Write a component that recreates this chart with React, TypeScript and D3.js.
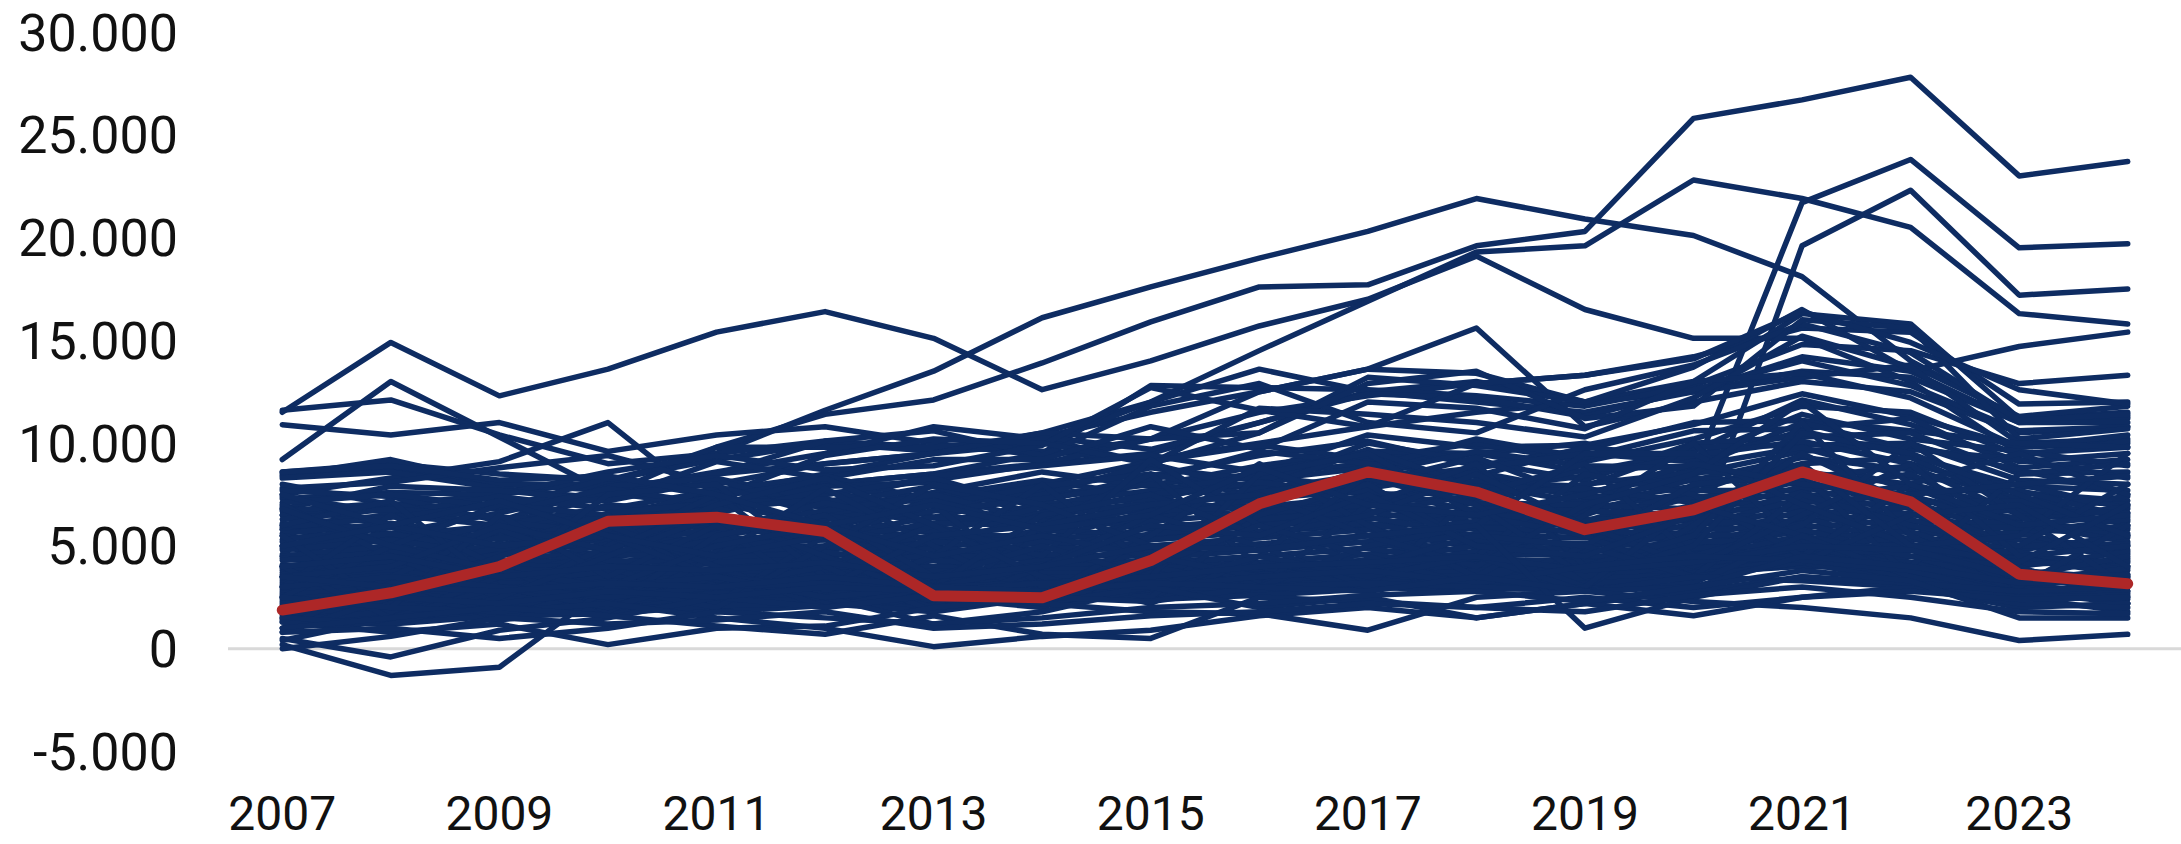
import React from "react";
import * as d3 from "d3";

// Years on the category axis
const YEARS = [2007, 2008, 2009, 2010, 2011, 2012, 2013, 2014, 2015, 2016, 2017, 2018, 2019, 2020, 2021, 2022, 2023, 2024];
const X_TICKS = [2007, 2009, 2011, 2013, 2015, 2017, 2019, 2021, 2023];
// values in thousands
const Y_TICKS = [-5, 0, 5, 10, 15, 20, 25, 30];

// Highlighted series (thousands)
const HIGHLIGHT = [1.88, 2.72, 4.0, 6.2, 6.4, 5.7, 2.58, 2.48, 4.29, 7.05, 8.6, 7.62, 5.79, 6.76, 8.6, 7.15, 3.62, 3.16];

// Upper outliers
const U01 = [11.5, 14.9, 12.3, 13.6, 15.4, 16.4, 15.1, 12.6, 14.0, 15.7, 17.0, 19.1, 16.5, 15.1, 15.1, 13.0, 9.5, 9.8];
const U02 = [6.5, 7.0, 7.5, 8.2, 9.5, 11.6, 13.5, 16.1, 17.6, 19.0, 20.3, 21.9, 20.9, 20.1, 18.1, 14.0, 11.2, 11.3];
const U03 = [5.8, 6.5, 6.0, 7.5, 9.8, 11.4, 12.1, 13.9, 15.9, 17.6, 17.7, 19.6, 20.3, 25.8, 26.7, 27.8, 23.0, 23.7];
const U04 = [8.6, 9.0, 8.5, 8.2, 9.2, 10.0, 9.6, 10.5, 12.0, 14.5, 16.9, 19.3, 19.6, 22.8, 21.9, 20.5, 16.3, 15.8];
const U05 = [4.0, 4.5, 5.0, 6.0, 5.5, 6.5, 7.0, 7.5, 8.0, 8.5, 9.0, 9.5, 10.0, 8.5, 21.7, 23.8, 19.5, 19.7];
const U06 = [3.5, 3.0, 4.0, 4.5, 5.0, 5.5, 6.0, 6.5, 7.0, 7.5, 8.0, 8.5, 7.5, 5.0, 19.6, 22.3, 17.2, 17.5];
const U07 = [9.2, 13.0, 10.3, 7.6, 7.0, 8.0, 8.5, 9.0, 9.5, 11.0, 12.5, 13.0, 12.0, 12.5, 14.2, 13.5, 11.0, 11.2];
const U08 = [11.6, 12.1, 10.4, 9.0, 9.5, 10.1, 9.8, 9.6, 9.2, 10.0, 10.8, 11.5, 12.0, 12.5, 13.5, 13.2, 11.0, 11.0];
const U09 = [10.9, 10.4, 11.0, 9.6, 10.4, 10.8, 10.0, 9.4, 10.2, 11.5, 12.3, 12.9, 13.3, 14.2, 15.6, 15.4, 11.9, 12.0];
const U10 = [7.5, 8.3, 9.1, 11.0, 6.8, 7.5, 8.2, 9.0, 10.2, 12.5, 13.6, 13.4, 12.0, 13.0, 16.3, 15.8, 11.2, 11.5];
const U11 = [6.0, 6.5, 7.0, 7.5, 8.5, 9.0, 9.5, 10.3, 11.5, 12.5, 13.6, 15.6, 10.8, 12.0, 13.0, 12.5, 10.5, 10.8];
const U12 = [5.0, 5.5, 6.0, 6.5, 7.5, 8.5, 9.5, 10.0, 12.0, 13.6, 12.5, 12.0, 11.5, 12.5, 13.2, 13.8, 11.3, 11.8];
const U13 = [4.5, 5.0, 5.5, 6.5, 7.0, 8.0, 8.5, 9.5, 12.8, 12.7, 12.6, 12.3, 11.8, 12.8, 14.8, 14.5, 12.9, 13.3];
const U14 = [8.5, 8.8, 8.0, 7.7, 8.6, 9.5, 10.8, 10.2, 9.0, 10.5, 13.2, 12.8, 12.0, 13.7, 16.5, 13.5, 14.7, 15.4];

// Middle-upper series
const M01 = [8.4, 9.2, 8.0, 8.0, 9.8, 9.8, 9.8, 10.3, 9.7, 11.0, 12.4, 12.2, 11.3, 12.6, 14.0, 12.8, 10.6, 10.8];
const M02 = [8.3, 8.6, 7.8, 7.3, 8.5, 10.1, 10.6, 9.4, 11.8, 12.9, 11.0, 10.5, 12.6, 13.8, 15.8, 14.4, 11.1, 11.4];
const M03 = [7.8, 8.1, 8.8, 9.4, 8.0, 9.0, 9.5, 10.5, 10.2, 10.5, 12.9, 13.5, 11.2, 11.8, 16.0, 15.6, 10.2, 10.7];
const M04 = [7.3, 7.6, 7.5, 8.6, 9.4, 8.7, 8.9, 9.9, 12.7, 11.6, 10.8, 12.9, 13.3, 14.1, 16.4, 14.9, 12.6, 11.9];
const M05 = [8.0, 7.0, 6.8, 8.3, 7.4, 9.4, 10.2, 10.0, 9.0, 11.7, 11.4, 11.0, 10.3, 12.2, 15.2, 13.7, 10.0, 10.2];
const M06 = [6.8, 7.9, 7.7, 7.2, 9.1, 8.3, 9.2, 9.2, 10.8, 9.7, 12.0, 11.7, 10.7, 13.0, 13.4, 12.2, 9.8, 10.0];

// Dense band
const B01 = [7.7, 7.4, 6.2, 7.9, 8.3, 7.1, 8.4, 8.9, 9.4, 8.6, 10.4, 9.8, 9.9, 10.9, 12.4, 11.3, 9.8, 10.4];
const B02 = [7.4, 6.6, 7.4, 6.8, 7.7, 8.4, 7.2, 8.0, 9.1, 9.9, 9.2, 10.0, 9.1, 10.2, 11.8, 11.5, 9.4, 10.1];
const B03 = [7.1, 7.5, 6.9, 7.6, 6.9, 7.9, 8.1, 7.2, 8.4, 9.4, 10.1, 8.9, 9.7, 11.0, 11.1, 10.6, 10.0, 9.8];
const B04 = [6.9, 6.0, 7.2, 7.2, 8.2, 6.8, 7.6, 8.6, 7.9, 8.9, 9.6, 9.5, 8.6, 9.6, 12.1, 10.9, 9.1, 9.5];
const B05 = [6.7, 7.1, 5.8, 6.5, 7.4, 8.2, 6.9, 7.7, 8.8, 8.2, 8.8, 10.2, 9.3, 10.6, 10.7, 11.2, 8.8, 9.2];
const B06 = [6.5, 5.6, 6.6, 7.8, 7.0, 7.5, 8.3, 6.8, 8.2, 9.6, 9.0, 8.4, 9.8, 9.3, 11.4, 10.2, 9.6, 8.9];
const B07 = [6.3, 6.8, 6.4, 6.1, 7.9, 6.5, 7.4, 8.2, 7.4, 8.0, 10.0, 9.1, 8.2, 10.0, 10.3, 10.5, 8.5, 8.6];
const B08 = [6.1, 5.3, 5.6, 7.0, 6.6, 7.7, 6.4, 7.5, 9.0, 7.7, 8.5, 9.6, 8.9, 8.8, 11.0, 9.7, 9.2, 8.3];
const B09 = [5.9, 6.4, 7.0, 5.9, 7.3, 7.0, 7.9, 6.5, 7.1, 8.7, 9.4, 8.1, 7.9, 9.8, 9.9, 10.0, 8.2, 8.0];
const B10 = [5.8, 5.1, 6.0, 6.9, 6.2, 6.3, 7.0, 7.9, 8.5, 7.4, 8.2, 8.8, 9.5, 9.1, 10.6, 9.4, 7.9, 7.7];
const B11 = [5.6, 6.1, 5.3, 6.3, 6.8, 7.3, 6.1, 7.0, 7.7, 8.4, 7.8, 8.6, 7.6, 8.5, 9.6, 9.9, 8.7, 7.5];
const B12 = [5.5, 4.8, 6.2, 5.6, 6.0, 6.7, 7.5, 6.2, 6.8, 7.8, 9.7, 7.8, 8.4, 9.4, 10.1, 9.0, 7.6, 7.2];
const B13 = [5.3, 5.9, 5.0, 6.6, 7.1, 6.0, 6.7, 7.3, 8.0, 7.2, 8.0, 9.3, 7.3, 8.2, 9.3, 8.7, 7.3, 7.0];
const B14 = [5.2, 4.6, 5.7, 5.4, 5.7, 7.1, 6.0, 6.6, 7.5, 8.1, 7.5, 7.6, 8.7, 8.9, 9.8, 8.3, 8.0, 6.8];
const B15 = [5.0, 5.6, 4.7, 6.0, 6.5, 5.8, 7.2, 5.9, 6.5, 7.0, 8.8, 8.0, 7.1, 7.9, 9.0, 9.3, 7.0, 6.6];
const B16 = [4.9, 4.4, 5.4, 5.2, 5.4, 6.5, 5.6, 6.9, 7.3, 6.7, 7.2, 7.3, 8.0, 8.6, 8.6, 8.0, 6.8, 7.4];
const B17 = [4.8, 5.3, 4.5, 5.8, 6.2, 5.5, 6.4, 6.3, 6.1, 7.6, 8.3, 7.0, 6.8, 7.6, 9.4, 7.7, 7.7, 6.4];
const B18 = [4.6, 4.2, 5.1, 4.9, 5.9, 6.1, 5.3, 5.6, 7.0, 6.4, 6.9, 8.2, 7.4, 7.3, 8.3, 8.9, 6.5, 6.2];
const B19 = [4.5, 5.0, 4.2, 5.5, 5.1, 5.3, 6.1, 6.0, 6.3, 7.3, 7.7, 6.7, 6.5, 8.3, 8.0, 7.4, 6.3, 6.9];
const B20 = [4.4, 3.9, 4.9, 4.6, 5.6, 5.9, 5.0, 6.5, 5.8, 6.2, 6.6, 7.5, 7.8, 7.1, 8.7, 7.1, 7.2, 6.0];
const B21 = [4.3, 4.7, 4.0, 5.1, 4.9, 5.0, 5.8, 5.3, 6.7, 6.9, 7.4, 6.4, 6.2, 7.7, 7.7, 8.5, 6.0, 5.8];
const B22 = [4.1, 3.7, 4.6, 4.4, 5.3, 5.6, 4.8, 5.8, 5.5, 6.0, 6.3, 7.1, 7.0, 6.8, 8.2, 6.8, 6.7, 6.6];
const B23 = [4.0, 4.5, 3.8, 4.8, 4.6, 4.8, 5.5, 5.1, 6.2, 6.6, 7.0, 6.1, 6.0, 7.4, 7.4, 7.9, 5.8, 5.6];
const B24 = [3.9, 3.5, 4.3, 4.1, 5.0, 5.3, 4.5, 5.5, 5.3, 5.7, 6.0, 6.8, 6.7, 6.5, 7.9, 6.5, 6.4, 5.4];
const B25 = [3.8, 4.2, 3.6, 4.6, 4.4, 4.5, 5.2, 4.8, 5.9, 6.3, 6.7, 5.8, 5.7, 7.0, 7.1, 7.5, 5.6, 6.3];
const B26 = [3.7, 3.3, 4.1, 3.9, 4.7, 5.0, 4.3, 5.2, 5.0, 5.4, 5.8, 6.5, 6.3, 6.2, 7.6, 6.2, 6.1, 5.2];
const B27 = [3.6, 4.0, 3.4, 4.3, 4.1, 4.2, 4.9, 4.5, 5.6, 6.0, 6.4, 5.5, 5.4, 6.7, 6.8, 7.2, 5.3, 5.0];
const B28 = [3.5, 3.1, 3.9, 3.7, 4.4, 4.7, 4.0, 4.9, 4.8, 5.1, 5.5, 6.2, 6.0, 5.9, 7.3, 5.9, 5.9, 5.9];
const B29 = [3.4, 3.8, 3.2, 4.0, 3.8, 3.9, 4.6, 4.3, 5.3, 5.7, 6.1, 5.2, 5.1, 6.4, 6.5, 6.9, 5.0, 4.8];
const B30 = [3.3, 2.9, 3.6, 3.5, 4.2, 4.4, 3.8, 4.6, 4.5, 4.8, 5.2, 5.9, 5.7, 5.6, 7.0, 5.6, 5.6, 4.6];
const B31 = [3.2, 3.6, 3.0, 3.8, 3.6, 3.7, 4.3, 4.0, 5.0, 5.4, 5.8, 4.9, 4.9, 6.1, 6.2, 6.6, 4.8, 5.5];
const B32 = [3.1, 2.7, 3.4, 3.3, 3.9, 4.1, 3.5, 4.3, 4.2, 4.5, 4.9, 5.6, 5.4, 5.3, 6.7, 5.3, 5.3, 4.4];
const B33 = [3.0, 3.4, 2.8, 3.5, 3.3, 3.5, 4.0, 3.7, 4.7, 5.1, 5.5, 4.6, 4.6, 5.8, 5.9, 6.3, 4.5, 4.2];
const B34 = [2.9, 2.5, 3.2, 3.1, 3.7, 3.8, 3.3, 4.1, 4.0, 4.2, 4.6, 5.3, 5.1, 5.0, 6.4, 5.0, 5.0, 5.1];
const B35 = [2.8, 3.2, 2.6, 3.3, 3.1, 3.3, 3.8, 3.5, 4.4, 4.8, 5.2, 4.3, 4.3, 5.5, 5.6, 6.0, 4.3, 4.0];
const B36 = [2.7, 2.4, 3.0, 2.9, 3.5, 3.6, 3.1, 3.9, 3.8, 4.0, 4.3, 5.0, 4.8, 4.8, 6.1, 4.8, 4.7, 3.8];
const B37 = [2.6, 3.0, 2.4, 3.1, 2.9, 3.1, 3.6, 3.3, 4.1, 4.5, 4.9, 4.1, 4.1, 5.2, 5.3, 5.7, 4.0, 4.7];
const B38 = [2.5, 2.2, 2.8, 2.7, 3.3, 3.4, 2.9, 3.7, 3.6, 3.8, 4.1, 4.7, 4.5, 4.6, 5.8, 4.5, 4.4, 3.6];
const B39 = [2.4, 2.8, 2.2, 2.9, 2.7, 2.9, 3.4, 3.1, 3.9, 4.2, 4.6, 3.9, 3.9, 4.9, 5.0, 5.4, 3.8, 3.4];
const B40 = [2.3, 2.0, 2.6, 2.5, 3.1, 3.2, 2.7, 3.5, 3.4, 3.6, 3.9, 4.4, 4.2, 4.4, 5.5, 4.2, 4.1, 4.3];
const B41 = [2.2, 2.6, 2.0, 2.7, 2.5, 2.7, 3.2, 2.9, 3.7, 3.9, 4.3, 3.7, 3.7, 4.6, 4.8, 5.1, 3.5, 3.2];
const B42 = [2.1, 1.8, 2.4, 2.3, 2.9, 3.0, 2.5, 3.3, 3.2, 3.4, 3.7, 4.1, 4.0, 4.2, 5.2, 4.0, 3.8, 3.0];
const B43 = [2.0, 2.4, 1.9, 2.5, 2.3, 2.5, 3.0, 2.7, 3.5, 3.6, 4.0, 3.5, 3.5, 4.3, 4.6, 4.8, 3.3, 3.9];
const B44 = [1.9, 1.7, 2.2, 2.1, 2.7, 2.8, 2.3, 3.1, 3.0, 3.2, 3.5, 3.8, 3.8, 4.0, 4.9, 3.8, 3.5, 2.8];
const B45 = [1.8, 2.2, 1.7, 2.3, 2.1, 2.3, 2.8, 2.5, 3.3, 3.4, 3.8, 3.3, 3.3, 4.1, 4.4, 4.5, 3.1, 2.7];
const B46 = [1.7, 1.5, 2.0, 1.9, 2.5, 2.6, 2.1, 2.9, 2.8, 3.0, 3.3, 3.6, 3.6, 3.8, 4.6, 3.6, 3.2, 3.5];
const B47 = [1.6, 2.0, 1.5, 2.1, 1.9, 2.2, 2.6, 2.3, 3.1, 3.2, 3.6, 3.1, 3.1, 3.9, 4.2, 4.2, 2.9, 2.5];
const B48 = [1.5, 1.3, 1.8, 1.8, 2.3, 2.4, 1.9, 2.7, 2.6, 2.8, 3.1, 3.4, 3.4, 3.6, 4.4, 3.4, 3.0, 2.4];
const B49 = [1.4, 1.8, 1.4, 2.0, 1.8, 2.1, 2.4, 2.1, 2.9, 3.0, 3.4, 2.9, 2.9, 3.7, 4.0, 3.9, 2.7, 3.2];
const B50 = [1.3, 1.2, 1.6, 1.7, 2.1, 2.2, 1.8, 2.5, 2.4, 2.6, 2.9, 3.2, 3.2, 3.4, 4.2, 3.2, 2.8, 2.2];

// Wandering series crossing the band
const W01 = [1.0, 3.5, 5.8, 4.0, 2.2, 5.5, 7.0, 3.0, 2.5, 6.5, 8.0, 5.0, 3.0, 6.0, 9.5, 7.0, 3.5, 4.5];
const W02 = [7.0, 4.5, 2.5, 5.0, 7.5, 3.5, 2.0, 6.0, 8.5, 4.0, 3.0, 7.5, 9.0, 4.5, 6.0, 10.0, 6.5, 3.0];
const W03 = [3.0, 6.5, 4.0, 1.8, 4.5, 7.8, 5.0, 2.5, 5.5, 9.0, 6.0, 3.5, 6.5, 10.0, 5.0, 4.0, 8.5, 9.0];
const W04 = [5.5, 2.0, 6.5, 3.5, 6.0, 2.5, 4.5, 8.0, 4.0, 3.0, 7.0, 9.0, 4.0, 5.5, 11.0, 5.5, 3.0, 6.0];
const W05 = [2.5, 5.0, 7.0, 6.5, 3.0, 4.0, 6.0, 4.5, 9.2, 6.0, 4.0, 4.5, 8.5, 7.5, 4.5, 8.0, 9.5, 7.5];
const W06 = [6.0, 7.2, 3.0, 2.0, 5.5, 6.5, 3.5, 5.0, 3.5, 8.5, 9.5, 6.5, 5.5, 3.5, 7.5, 6.0, 5.0, 8.0];
const W07 = [4.0, 1.5, 3.5, 7.5, 8.0, 4.0, 1.8, 4.0, 6.5, 5.0, 3.0, 2.8, 5.0, 8.0, 8.5, 3.5, 2.5, 3.5];
const W08 = [0.8, 2.5, 4.5, 6.0, 4.0, 2.0, 3.0, 6.5, 7.5, 5.5, 6.5, 8.5, 6.0, 4.0, 6.5, 9.0, 4.5, 5.0];
const W09 = [6.8, 5.0, 3.8, 3.0, 2.0, 5.0, 8.0, 7.0, 5.0, 3.0, 5.0, 6.0, 9.5, 9.5, 7.0, 5.0, 5.5, 9.5];
const W10 = [3.5, 4.0, 6.0, 4.8, 7.0, 8.3, 6.0, 3.5, 2.2, 4.5, 8.5, 7.0, 3.5, 5.0, 10.5, 9.5, 7.5, 5.5];
const W11 = [1.5, 1.2, 2.5, 4.5, 6.5, 4.5, 2.5, 2.0, 4.0, 6.0, 4.5, 3.0, 3.0, 7.0, 5.5, 4.5, 4.0, 2.2];
const W12 = [7.5, 6.0, 5.0, 5.5, 3.5, 3.0, 5.5, 6.0, 7.0, 7.5, 5.5, 4.0, 7.0, 8.5, 12.0, 8.0, 6.0, 6.5];
const W13 = [2.0, 3.0, 1.5, 3.0, 5.0, 6.0, 4.5, 5.5, 4.5, 3.5, 4.0, 5.5, 5.0, 3.5, 4.2, 6.5, 7.0, 4.0];
const W14 = [5.0, 6.0, 7.2, 5.5, 4.5, 5.5, 3.0, 4.0, 6.0, 5.5, 7.5, 5.0, 4.5, 6.5, 9.0, 5.0, 4.2, 7.0];
const W15 = [0.4, 1.5, 3.0, 2.0, 3.5, 2.5, 1.2, 1.8, 3.0, 4.5, 3.5, 4.5, 2.8, 3.2, 5.5, 3.5, 2.5, 1.8];
const W16 = [8.6, 8.9, 8.2, 8.4, 7.5, 6.0, 7.0, 5.8, 6.5, 8.8, 7.0, 6.5, 7.5, 9.0, 8.0, 7.5, 8.0, 8.4];

// Lower outliers
const L01 = [0.2, -1.3, -0.9, 3.0, 3.5, 2.5, 3.0, 3.2, 3.5, 4.0, 4.2, 4.5, 3.8, 4.2, 5.0, 4.8, 3.5, 3.6];
const L02 = [0.5, -0.4, 0.9, 1.5, 2.5, 2.0, 2.6, 2.2, 3.0, 3.5, 3.8, 3.2, 4.0, 4.5, 4.3, 3.8, 2.6, 2.8];
const L03 = [1.3, 0.8, 1.2, 0.2, 1.0, 1.1, 2.0, 2.5, 2.3, 3.0, 3.2, 3.0, 2.8, 3.5, 3.3, 3.0, 2.5, 2.6];
const L04 = [2.5, 2.0, 1.8, 2.2, 1.5, 1.0, 0.1, 0.6, 0.9, 1.6, 2.0, 1.5, 2.2, 2.8, 3.5, 3.0, 2.0, 2.2];
const L05 = [1.0, 1.5, 2.0, 1.6, 1.1, 0.7, 1.6, 0.7, 0.5, 2.5, 2.3, 2.0, 2.5, 2.0, 2.5, 3.0, 2.2, 2.0];
const L06 = [3.0, 3.5, 3.0, 2.5, 3.0, 3.2, 2.8, 2.2, 1.8, 1.7, 0.9, 2.5, 2.8, 3.0, 4.5, 4.0, 3.2, 3.3];
const L07 = [4.0, 4.5, 3.5, 4.0, 3.8, 4.2, 3.5, 4.0, 5.0, 4.8, 5.5, 6.0, 1.0, 2.5, 3.5, 3.2, 2.8, 3.0];
const L08 = [2.0, 2.5, 2.2, 2.8, 2.5, 3.0, 2.8, 3.2, 3.0, 2.0, 2.5, 1.5, 2.2, 1.6, 2.5, 2.8, 2.4, 2.5];
const L09 = [3.5, 3.0, 2.8, 3.2, 3.0, 3.5, 3.0, 2.8, 3.2, 3.0, 2.8, 3.5, 2.8, 2.3, 2.0, 1.5, 0.4, 0.7];
const L10 = [0.8, 1.0, 0.5, 1.0, 1.8, 1.5, 1.2, 1.5, 2.0, 2.2, 2.6, 2.8, 2.3, 3.0, 3.8, 3.3, 1.5, 1.5];
const L11 = [0.0, 0.6, 1.5, 1.2, 1.4, 1.8, 1.0, 1.2, 1.6, 1.8, 2.2, 2.0, 1.8, 2.6, 3.0, 2.5, 1.8, 1.7];

const SERIES = [
  U01, U02, U03, U04, U05, U06, U07, U08, U09, U10, U11, U12, U13, U14,
  M01, M02, M03, M04, M05, M06,
  B01, B02, B03, B04, B05, B06, B07, B08, B09, B10, B11, B12, B13, B14, B15, B16, B17, B18, B19, B20,
  B21, B22, B23, B24, B25, B26, B27, B28, B29, B30, B31, B32, B33, B34, B35, B36, B37, B38, B39, B40,
  B41, B42, B43, B44, B45, B46, B47, B48, B49, B50,
  W01, W02, W03, W04, W05, W06, W07, W08, W09, W10, W11, W12, W13, W14, W15, W16,
  L01, L02, L03, L04, L05, L06, L07, L08, L09, L10, L11,
];

const NAVY = "#0e2c62";
const RED = "#ad2727";

const locale = d3.formatLocale({ decimal: ",", thousands: ".", grouping: [3], currency: ["", ""], minus: "-" });
const fmt = locale.format(",.0f");

export default function App() {
  const W = 2181;
  const H = 844;
  const x = d3.scalePoint<number>().domain(YEARS).range([228, 2182]).padding(0.5);
  const y = d3.scaleLinear().domain([-5, 30]).range([751.5, 32]);
  const line = d3
    .line<number>()
    .x((_, i) => x(YEARS[i]) as number)
    .y((d) => y(d));

  return (
    <svg
      width={W}
      height={H}
      style={{ position: "absolute", left: 0, top: 0, display: "block", background: "#fff" }}
    >
      <line x1={228} x2={2181} y1={y(0)} y2={y(0)} stroke="#d9d9d9" strokeWidth={3} />
      <g fill="none" stroke={NAVY} strokeWidth={5.5} strokeLinejoin="round" strokeLinecap="round">
        {SERIES.map((s, i) => (
          <path key={i} d={line(s) || ""} />
        ))}
      </g>
      <path
        d={line(HIGHLIGHT) || ""}
        fill="none"
        stroke={RED}
        strokeWidth={11}
        strokeLinejoin="round"
        strokeLinecap="round"
      />
      <g fontFamily="Roboto" fontSize={52} fill="#111" textAnchor="end">
        {Y_TICKS.map((t) => (
          <text key={t} x={178} y={y(t) + 18.5}>
            {fmt(t * 1000)}
          </text>
        ))}
      </g>
      <g fontFamily="Roboto" fontSize={48} fill="#111" textAnchor="middle">
        {X_TICKS.map((t) => (
          <text key={t} x={x(t) as number} y={830}>
            {t}
          </text>
        ))}
      </g>
    </svg>
  );
}
